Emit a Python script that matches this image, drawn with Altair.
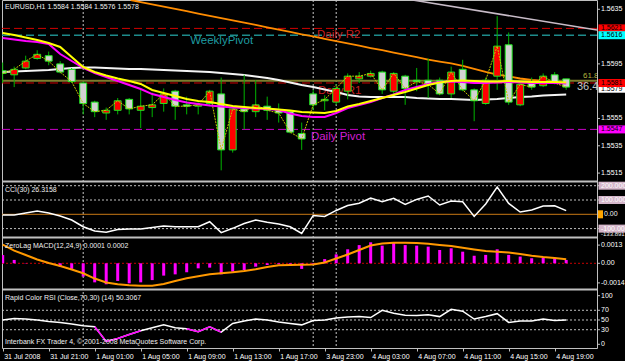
import altair as alt
import pandas as pd

# ---------------- data ----------------
time_labels = ["31 Jul 2008", "31 Jul 21:00", "1 Aug 01:00", "1 Aug 05:00", "1 Aug 09:00",
               "1 Aug 13:00", "1 Aug 17:00", "3 Aug 23:00", "4 Aug 03:00", "4 Aug 07:00",
               "4 Aug 11:00", "4 Aug 15:00", "4 Aug 19:00"]
time_label_idx = [0, 4, 8, 12, 16, 20, 24, 28, 32, 36, 40, 44, 48]
day_breaks = [7, 27, 29]

opens = [1.5590, 1.5587, 1.5592, 1.5599, 1.5601, 1.5595, 1.5591, 1.5581, 1.5567, 1.5559,
         1.5561, 1.5569, 1.5561, 1.5563, 1.5566, 1.5575, 1.5565, 1.5564, 1.5566, 1.5573,
         1.5532, 1.5562, 1.5560, 1.5564, 1.5561, 1.5560, 1.5544, 1.5573, 1.5568, 1.5567,
         1.5575, 1.5584, 1.5586, 1.5589, 1.5575, 1.5586, 1.5583, 1.5583, 1.5583, 1.5573,
         1.5591, 1.5576, 1.5566, 1.5586, 1.5609, 1.5565, 1.5581, 1.5579, 1.5587, 1.5584]
highs = [1.5596, 1.5593, 1.5601, 1.5605, 1.5604, 1.5597, 1.5592, 1.5582, 1.5568, 1.5563,
         1.5570, 1.5570, 1.5576, 1.5574, 1.5577, 1.5576, 1.5571, 1.5567, 1.5576, 1.5585,
         1.5564, 1.5587, 1.5583, 1.5571, 1.5566, 1.5561, 1.5552, 1.5576, 1.5572, 1.5580,
         1.5588, 1.5589, 1.5590, 1.5590, 1.5589, 1.5587, 1.5592, 1.5599, 1.5585, 1.5593,
         1.5598, 1.5577, 1.5585, 1.5630, 1.5618, 1.5581, 1.5585, 1.5588, 1.5589, 1.5584]
lows = [1.5581, 1.5578, 1.5591, 1.5598, 1.5594, 1.5588, 1.5581, 1.5558, 1.5556, 1.5554,
        1.5558, 1.5558, 1.5548, 1.5556, 1.5560, 1.5554, 1.5558, 1.5558, 1.5564, 1.5517,
        1.5530, 1.5547, 1.5556, 1.5554, 1.5552, 1.5544, 1.5532, 1.5561, 1.5561, 1.5565,
        1.5569, 1.5581, 1.5585, 1.5573, 1.5572, 1.5565, 1.5575, 1.5570, 1.5572, 1.5570,
        1.5575, 1.5553, 1.5565, 1.5576, 1.5565, 1.5564, 1.5576, 1.5578, 1.5580, 1.5576]
closes = [1.5588, 1.5591, 1.5597, 1.5602, 1.5597, 1.5589, 1.5582, 1.5566, 1.5560, 1.5561,
          1.5568, 1.5562, 1.5564, 1.5565, 1.5573, 1.5564, 1.5564, 1.5565, 1.5575, 1.5532,
          1.5562, 1.5560, 1.5565, 1.5561, 1.5559, 1.5545, 1.5540, 1.5565, 1.5569, 1.5577,
          1.5586, 1.5586, 1.5588, 1.5576, 1.5588, 1.5577, 1.5582, 1.5580, 1.5573, 1.5589,
          1.5576, 1.5568, 1.5583, 1.5608, 1.5567, 1.5580, 1.5578, 1.5586, 1.5581, 1.5578]

ma_yellow = [1.56176, 1.56162, 1.56143, 1.56125, 1.56103, 1.56074, 1.56000, 1.55927, 1.55891, 1.55865,
             1.55843, 1.55825, 1.55803, 1.55759, 1.55737, 1.55715, 1.55693, 1.55678, 1.55671, 1.55656,
             1.55642, 1.55634, 1.55627, 1.55623, 1.55616, 1.55608, 1.55597, 1.55594, 1.55590, 1.55605,
             1.55638, 1.55656, 1.55678, 1.55700, 1.55722, 1.55744, 1.55770, 1.55795, 1.55814, 1.55825,
             1.55828, 1.55825, 1.55821, 1.55821, 1.55825, 1.55821, 1.55817, 1.55817, 1.55817, 1.55814]
ma_magenta = [1.56140, 1.56129, 1.56118, 1.56110, 1.56096, 1.56022, 1.55971, 1.55920, 1.55883, 1.55854,
              1.55825, 1.55795, 1.55766, 1.55729, 1.55707, 1.55685, 1.55667, 1.55656, 1.55645, 1.55638,
              1.55630, 1.55627, 1.55623, 1.55620, 1.55612, 1.55587, 1.55568, 1.55561, 1.55561, 1.55590,
              1.55627, 1.55649, 1.55671, 1.55700, 1.55726, 1.55759, 1.55781, 1.55803, 1.55817, 1.55821,
              1.55817, 1.55810, 1.55810, 1.55814, 1.55817, 1.55814, 1.55810, 1.55810, 1.55810, 1.55806]
ma_white = [1.55891, 1.55894, 1.55898, 1.55902, 1.55905, 1.55913, 1.55920, 1.55923, 1.55923, 1.55920,
            1.55916, 1.55913, 1.55913, 1.55909, 1.55905, 1.55902, 1.55898, 1.55894, 1.55891, 1.55883,
            1.55876, 1.55869, 1.55858, 1.55847, 1.55832, 1.55814, 1.55795, 1.55781, 1.55762, 1.55744,
            1.55722, 1.55711, 1.55707, 1.55707, 1.55707, 1.55707, 1.55700, 1.55696, 1.55693, 1.55693,
            1.55689, 1.55685, 1.55689, 1.55693, 1.55700, 1.55707, 1.55711, 1.55718, 1.55722, 1.55726]
ma_orange_idx = [11.13] + list(range(12, 50))
ma_orange = [1.56418, 1.56403, 1.56386, 1.56370, 1.56353, 1.56336, 1.56319, 1.56302, 1.56285,
             1.56269, 1.56252, 1.56235, 1.56218, 1.56201, 1.56184, 1.56167, 1.56151, 1.56134, 1.56117,
             1.56100, 1.56083, 1.56066, 1.56050, 1.56033, 1.56016, 1.55999, 1.55982, 1.55967, 1.55953,
             1.55935, 1.55913, 1.55891, 1.55872, 1.55858, 1.55843, 1.55832, 1.55825, 1.55817, 1.55814]
trend_idx = [35.64, 51.68]
trend_price = [1.56418, 1.56198]

level_r2 = 1.5621
level_weekly = 1.5616
level_fib = 1.55827
level_r1 = 1.5581
level_pivot = 1.5547

obj_text = ["WeeklyPivot", "Daily R2", "Daily R1", "Daily Pivot"]
obj_idx = [16.3, 27.33, 27.42, 26.8]
obj_price = [1.56114, 1.56165, 1.55751, 1.55418]

box_price = [1.5621, 1.5616, 1.55768, 1.5581, 1.5547]
box_text = ["1.5621", "1.5616", "1.5579", "1.5581", "1.5547"]
price_ticks = [1.5515, 1.5535, 1.5555, 1.5595, 1.5635]
price_tick_text = ["1.5515", "1.5535", "1.5555", "1.5595", "1.5635"]

cci = [-5, -5, 9, 23, 9, -12, -40, -87, -117, -126, -106, -103, -103, -92, -82, -87, -87, -87, -52, -128,
       -98, -64, -40, -56, -68, -87, -134, -8, -15, 27, 62, 77, 114, 88, 112, 69, 104, 128, 65, 93,
       88, -15, 72, 191, 76, 16, 30, 58, 60, 26]
cci_levels = [200, 100, -100]
cci_box_text = ["200.000", "100.000", "-100.00"]
cci_min_text = "-133.891"

macd_hist = [0.00059, 0.00024, 0.00002, 0.0, 0.00002, -0.00024, -0.0004, -0.00095, -0.00136, -0.0015,
             -0.00126, -0.00143, -0.00136, -0.0012, -0.00088, -0.00079, -0.00064, -0.00036, -0.00031, -0.00079,
             -0.0006, -0.00048, -0.00024, -0.00012, -0.00007, -0.00012, -0.0004, -0.0001, 0.0003, 0.00064,
             0.001, 0.0013, 0.0015, 0.00126, 0.00147, 0.0013, 0.00126, 0.00119, 0.00095, 0.00107,
             0.00083, 0.00054, 0.0006, 0.001, 0.0006, 0.00048, 0.00036, 0.0004, 0.00036, 0.00024]
macd_signal = [0.00134, 0.00091, 0.00059, 0.00027, 0.00002, -0.00019, -0.00044, -0.00071, -0.00109, -0.00137,
               -0.0015, -0.00157, -0.0016, -0.0016, -0.00148, -0.00126, -0.00107, -0.00093, -0.00079, -0.00071,
               -0.00064, -0.00055, -0.00043, -0.00026, -0.00014, -0.00012, -0.0001, -0.00009, 0.00006, 0.00034,
               0.00063, 0.00095, 0.00127, 0.00141, 0.00147, 0.00147, 0.00145, 0.00139, 0.00131, 0.00124,
               0.00111, 0.00099, 0.00088, 0.00083, 0.00077, 0.00066, 0.00054, 0.00045, 0.00038, 0.00029]
macd_ticks = [0.0013, 0.0, -0.0014]
macd_tick_text = ["0.0013", "0.00", "-0.0014"]

rsi = [50, 53, 52, 50, 47, 45, 42, 38, 36, 6, 12, 20, 28, 34, 40, 34, 32, 26, 36, 25,
       43, 48, 52, 50, 46, 43, 40, 49, 50, 54, 56, 57, 55, 70, 64, 60, 59, 61, 57, 72,
       68, 52, 57, 63, 45, 48, 48, 52, 49, 50]
rsi_hot_runs = [[8, 12], [16, 19]]
rsi_levels = [70, 50, 30]
rsi_ticks = [100, 70, 50, 30, 0]
rsi_tick_text = ["100", "70", "50", "30", "0"]

# ---------------- layout / style ----------------
FONT = "Liberation Sans"
W, H = 595, 348
XDOM = [-0.061, 51.68]
MAIN = ([1.55092, 1.56418], [181, 0])
CCI = ([-158.7, 225.9], [237, 182])
MACD = ([-0.001836, 0.001807], [289, 238])
RSI = ([-7.6, 111.7], [348, 290])
SEPARATORS = [181.5, 237.5, 289.5]
GRAY = "#c0c0c0"
TXT = "#f0f0f0"
HALF_BODY = 0.3

N = len(opens)
idx = list(range(N))

XA = alt.Axis(values=time_label_idx, tickSize=3, labelPadding=1, labelAlign="left",
              labelBaseline="top", labelOffset=1, tickColor=GRAY, domain=False, grid=False,
              labelFlush=False, labelOverlap=False, labelFont=FONT, labelFontSize=7,
              labelColor="#ffffff",
              labelExpr="[" + ",".join("'" + s + "'" for s in time_labels) + "][datum.value / 4]")


def xenc(field="i"):
    return alt.X(f"{field}:Q", scale=alt.Scale(domain=XDOM, nice=False, zero=False, clamp=True),
                 axis=XA, title=None)


def yenc(field, panel):
    dom, rng = panel
    return alt.Y(f"{field}:Q", scale=alt.Scale(domain=dom, range=rng, nice=False, zero=False),
                 axis=None, title=None)


def one(**kw):
    return pd.DataFrame({k: [v] for k, v in kw.items()})


def hline(val, panel, color, dash=None, width=1.0):
    kw = dict(color=color, strokeWidth=width)
    if dash:
        kw["strokeDash"] = dash
    return alt.Chart(one(v=val)).mark_rule(**kw).encode(
        x=alt.value(0), x2=alt.value(W), y=yenc("v", panel))


def caption(text, y, size=7, x=3):
    return alt.Chart(one(t=text)).mark_text(
        align="left", baseline="middle", font=FONT, fontSize=size, color=TXT
    ).encode(x=alt.value(x), y=alt.value(y), text="t:N")


def box(price, text, bg, fg, panel, size=27, thick=8, xc=610, xt=599, show_box=True, fs=7):
    df = one(p=price, t=text)
    out = []
    if show_box:
        out.append(alt.Chart(df).mark_tick(orient="horizontal", size=size, thickness=thick,
                                           opacity=1, color=bg).encode(
            x=alt.value(xc), y=yenc("p", panel)))
    if text:
        out.append(alt.Chart(df).mark_text(align="left", baseline="middle", font=FONT, fontSize=fs,
                                           color=fg).encode(
            x=alt.value(xt), y=yenc("p", panel), text="t:N"))
    return out


def axis_labels(values, texts, panel):
    df = pd.DataFrame({"p": values, "t": texts})
    ticks = alt.Chart(df).mark_rule(color=GRAY, strokeWidth=1).encode(
        x=alt.value(W), x2=alt.value(W + 3), y=yenc("p", panel))
    labs = alt.Chart(df).mark_text(align="left", baseline="middle", font=FONT, fontSize=7,
                                   color="#ffffff").encode(
        x=alt.value(W + 4), y=yenc("p", panel), text="t:N")
    return [ticks, labs]


def line(df, panel, color, width, dash=None, detail=None):
    kw = dict(color=color, strokeWidth=width, clip=True)
    if dash:
        kw["strokeDash"] = dash
    enc = dict(x=xenc("i"), y=yenc("v", panel))
    if detail:
        enc["detail"] = detail
    return alt.Chart(df).mark_line(**kw).encode(**enc)


layers = []

# day separators (through all panels)
layers.append(alt.Chart(pd.DataFrame({"i": day_breaks})).mark_rule(
    color="#c8c8c8", strokeDash=[2, 2], strokeWidth=1).encode(x=xenc("i")))

# ---------------- main panel ----------------
bars = pd.DataFrame({"i": idx, "open": opens, "high": highs, "low": lows, "close": closes})
bars["dir"] = ["up" if c >= o else "down" for o, c in zip(opens, closes)]

layers += [
    hline(level_r2, MAIN, "#d20000", [8, 4], 1),
    hline(level_weekly, MAIN, "#1e8c8c", [8, 4], 1.6),
    hline(level_fib, MAIN, "#7d7d2d", None, 2),
    hline(level_r1, MAIN, "#d20000", [8, 4], 1),
    hline(level_pivot, MAIN, "#c800c8", [8, 4], 1),
]
obj_colors = ["#1e9ba0", "#c81e1e", "#c81e1e", "#d21ed2"]
for t, xi, p, c in zip(obj_text, obj_idx, obj_price, obj_colors):
    layers.append(alt.Chart(one(t=t, i=xi, p=p)).mark_text(
        align="left", baseline="middle", font=FONT, fontSize=11.5, color=c).encode(
        x=xenc("i"), y=yenc("p", MAIN), text="t:N"))

layers.append(line(pd.DataFrame({"i": idx, "v": ma_white}), MAIN, "#f4f4f4", 2))
layers.append(line(pd.DataFrame({"i": ma_orange_idx, "v": ma_orange}), MAIN, "#ff8c00", 1.8))
layers.append(line(pd.DataFrame({"i": trend_idx, "v": trend_price}), MAIN, "#c8bcc8", 1.5))
layers.append(alt.Chart(bars).mark_rule(color="#00b400", strokeWidth=1, clip=True).encode(
    x=xenc("i"), y=yenc("low", MAIN), y2="high:Q"))
layers.append(alt.Chart(bars).transform_calculate(
    xa=f"datum.i - {HALF_BODY}", xb=f"datum.i + {HALF_BODY}"
).mark_bar(stroke="#1ee61e", strokeWidth=1, clip=True).encode(
    x=xenc("xa"), x2="xb:Q", y=yenc("open", MAIN), y2="close:Q",
    fill=alt.Fill("dir:N", scale=alt.Scale(domain=["up", "down"], range=["#ff0000", "#d2d2d2"]),
                  legend=None)))
layers.append(line(pd.DataFrame({"i": idx, "v": closes}), MAIN, "#c8c800", 1, [2, 1]))
layers.append(line(pd.DataFrame({"i": idx, "v": ma_magenta}), MAIN, "#ff00ff", 2))
layers.append(line(pd.DataFrame({"i": idx, "v": ma_yellow}), MAIN, "#ffff00", 2))
layers.append(alt.Chart(one(t="61.8", i=50.46, p=1.55858)).mark_text(
    align="left", baseline="middle", font=FONT, fontSize=8, color="#b4b43c", clip=True).encode(
    x=xenc("i"), y=yenc("p", MAIN), text="t:N"))
layers.append(alt.Chart(one(t="36.49", i=49.94, p=1.55784)).mark_text(
    align="left", baseline="middle", font=FONT, fontSize=11, color="#c8c8c8", clip=True).encode(
    x=xenc("i"), y=yenc("p", MAIN), text="t:N"))
layers.append(caption("EURUSD,H1  1.5584 1.5584 1.5576 1.5578", 7))
layers += axis_labels(price_ticks, price_tick_text, MAIN)
box_bg = ["#ff0000", "#00ffff", "#ffffff", "#ff0000", "#ff00ff"]
for p, t, bg in zip(box_price, box_text, box_bg):
    layers += box(p, t, bg, "#000000", MAIN)

# ---------------- CCI panel ----------------
layers += [hline(v, CCI, GRAY, [2, 2], 1) for v in cci_levels]
layers.append(hline(0, CCI, "#c87814", None, 1))
layers.append(line(pd.DataFrame({"i": idx, "v": cci}), CCI, "#ffffff", 1.5))
layers.append(caption("CCI(30) 26.3158", 190))
layers += axis_labels([200, 100, 0, -100], ["", "", "", ""], CCI)
layers += box(-141, cci_min_text, "#000000", TXT, CCI, show_box=False, fs=6)
for v, t in zip(cci_levels, cci_box_text):
    layers += box(v, t, "#d4b6ca", "#ffffff", CCI)
layers += box(0, "", "#ffa500", "#ffffff", CCI, size=5, xc=598.5)
layers += box(0, "0.00", "#000000", TXT, CCI, xt=602, show_box=False)

# ---------------- MACD panel ----------------
df_macd = pd.DataFrame({"i": idx, "h": macd_hist, "v": macd_signal})
layers.append(hline(0, MACD, "#c80000", [2, 2], 1))
layers.append(alt.Chart(df_macd).mark_rule(color="#ff00ff", strokeWidth=3, clip=True).encode(
    x=xenc("i"), y=yenc("h", MACD), y2=alt.datum(0)))
layers.append(line(df_macd, MACD, "#ff9900", 2))
layers.append(caption("ZeroLag MACD(12,24,9) 0.0001 0.0002", 246))
layers += axis_labels(macd_ticks, macd_tick_text, MACD)

# ---------------- RSI panel ----------------
hot_rows = []
for run_no, (a, b) in enumerate(rsi_hot_runs):
    for j in range(a, b + 1):
        hot_rows.append({"i": j, "v": rsi[j], "run": run_no})
layers += [hline(v, RSI, GRAY, [2, 2], 1) for v in rsi_levels]
layers.append(line(pd.DataFrame({"i": idx, "v": rsi}), RSI, "#ffffff", 1.5))
layers.append(line(pd.DataFrame(hot_rows), RSI, "#ff00ff", 1.5, detail="run:N"))
layers.append(caption("Rapid Color RSI (Close,70,30) (14) 50.3067", 297.5))
layers.append(caption("Interbank FX Trader 4, \u00a9 2001-2008 MetaQuotes Software Corp.", 342))
layers += axis_labels(rsi_ticks, rsi_tick_text, RSI)

# ---------------- panel separators ----------------
for ys in SEPARATORS:
    layers.append(alt.Chart(one(a=0)).mark_rule(color=GRAY, strokeWidth=2).encode(
        x=alt.value(0), x2=alt.value(W), y=alt.value(ys)))

chart = alt.layer(*layers).resolve_scale(y="independent").properties(
    width=W, height=H,
    background="#000000",
    autosize=alt.AutoSizeParams(type="none"),
    padding={"left": 2, "top": 0, "right": 28, "bottom": 13},
).configure_view(stroke=GRAY, strokeWidth=1)

chart.save("out.html", embed_options={"renderer": "svg", "actions": False})
